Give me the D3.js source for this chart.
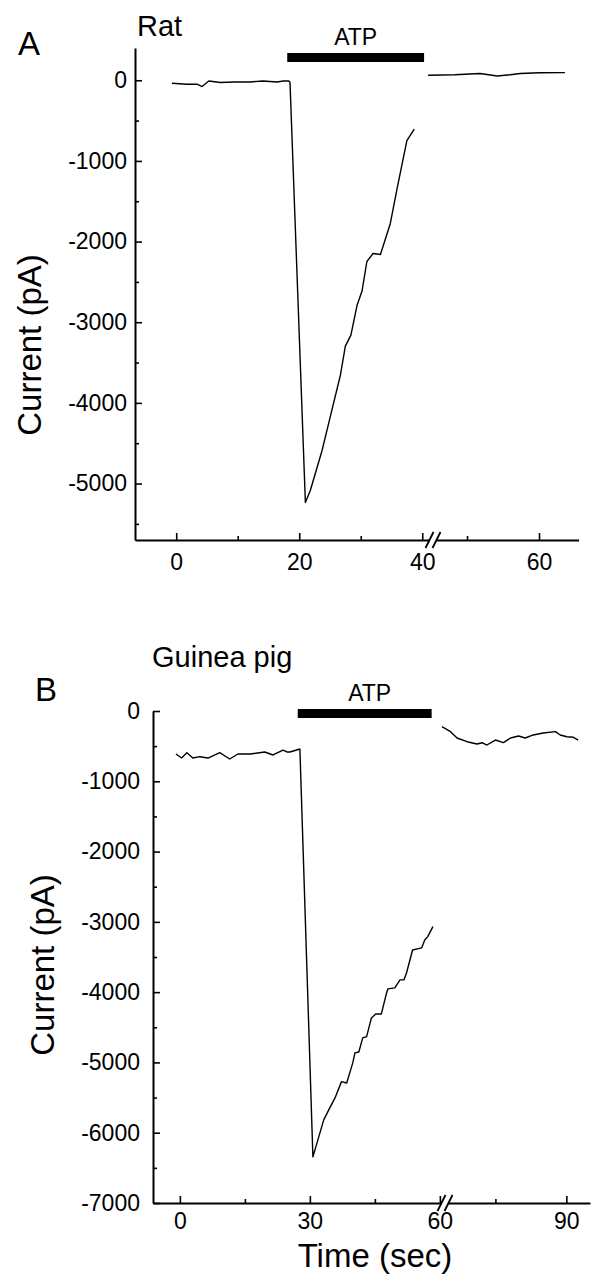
<!DOCTYPE html>
<html><head><meta charset="utf-8">
<script src="https://cdn.jsdelivr.net/npm/d3@7"></script>
<style>
body{margin:0;background:#fff}
svg{display:block;background:#fff}
text{font-family:"Liberation Sans",Arial,Helvetica,sans-serif;fill:#000}
</style>
</head><body>
<svg id="chart" width="592" height="1275"></svg>
<script>
// ---------- Data: Panel A (Rat) ----------
const ratTimePre = [-0.7,1.7,3.4,4.2,5.3,7.2,9.3,12.0,14.1,16.4,17.4,18.3,18.5,21.0,21.8,23.7,25.0,26.7,27.5,28.4,29.4,30.2,31.0,32.0,33.2,34.8,35.9,37.5,38.7];
const ratCurrentPre = [-37,-49,-49,-78,-9,-28,-21,-21,-9,-21,-9,-9,-25,-5235,-5086,-4593,-4185,-3654,-3296,-3160,-2790,-2617,-2247,-2148,-2160,-1778,-1346,-749,-605];
const ratTimePost = [44.6,48.3,51.8,54.2,56.0,57.4,60.1,63.6];
const ratCurrentPost = [62,68,83,53,68,83,93,95];
const ratYTicks = [0,-1000,-2000,-3000,-4000,-5000];
const ratYMinor = [-500,-1500,-2500,-3500,-4500,-5500];
const ratXTicksLeft = [0,20,40];
const ratXMinorLeft = [10,30];
const ratXTicksRight = [60];
const ratXMinorRight = [50];
const ratATP = [18.05, 40.3];

// ---------- Data: Panel B (Guinea pig) ----------
const gpTimePre = [-0.9,0.4,1.6,3.0,4.6,6.5,9.2,11.5,13.4,16.2,19.6,21.5,23.8,24.7,25.4,27.7,30.7,31.85,33.2,34.6,35.8,37.3,38.5,39.9,40.4,41.3,42.2,43.1,44.2,45.2,46.5,47.7,48.0,49.6,50.8,51.7,52.3,53.7,55.8,56.5,57.2,58.4];
const gpCurrentPre = [-612,-669,-593,-669,-650,-669,-593,-683,-612,-612,-583,-626,-555,-583,-583,-541,-6344,-6102,-5818,-5647,-5505,-5273,-5292,-5007,-4865,-4851,-4651,-4633,-4367,-4310,-4310,-4011,-3954,-3940,-3826,-3826,-3727,-3400,-3371,-3257,-3210,-3068];
const gpTimePost = [63.7,65.5,66.9,69.0,71.1,72.2,73.2,75.0,76.7,78.2,79.9,81.3,83.0,85.1,87.7,88.7,90.1,91.5,92.5];
const gpCurrentPost = [-223,-294,-384,-437,-469,-451,-484,-413,-451,-384,-356,-384,-341,-313,-294,-341,-366,-374,-413];
const gpYTicks = [0,-1000,-2000,-3000,-4000,-5000,-6000,-7000];
const gpYMinor = [-500,-1500,-2500,-3500,-4500,-5500,-6500];
const gpXTicksLeft = [0,30,60];
const gpXMinorLeft = [15,45];
const gpXTicksRight = [90];
const gpXMinorRight = [75];
const gpATP = [27.2, 58.1];

const svg = d3.select("#chart");

function drawPanel(p) {
  const g = svg.append("g");
  const y = d3.scaleLinear().domain(p.yDomain).range([p.bottom, p.top]);
  const xL = d3.scaleLinear().domain(p.xLeftDomain).range(p.xLeftRange);
  const xR = d3.scaleLinear().domain(p.xRightDomain).range(p.xRightRange);
  const fmt = d => String(d);

  g.append("g").attr("transform", `translate(${p.left},0)`)
    .call(d3.axisLeft(y).tickValues(p.yTicks).tickFormat(fmt).tickSizeInner(-7).tickSizeOuter(0).tickPadding(p.yPad));
  g.append("g").attr("transform", `translate(${p.left},0)`)
    .call(d3.axisLeft(y).tickValues(p.yMinor).tickFormat("").tickSizeInner(-4).tickSizeOuter(0))
    .select(".domain").remove();

  g.append("g").attr("transform", `translate(0,${p.bottom})`)
    .call(d3.axisBottom(xL).tickValues(p.xTicksLeft).tickFormat(fmt).tickSizeInner(-7).tickSizeOuter(0).tickPadding(p.xPad));
  g.append("g").attr("transform", `translate(0,${p.bottom})`)
    .call(d3.axisBottom(xL).tickValues(p.xMinorLeft).tickFormat("").tickSizeInner(-4).tickSizeOuter(0))
    .select(".domain").remove();
  g.append("g").attr("transform", `translate(0,${p.bottom})`)
    .call(d3.axisBottom(xR).tickValues(p.xTicksRight).tickFormat(fmt).tickSizeInner(-7).tickSizeOuter(0).tickPadding(p.xPad));
  g.append("g").attr("transform", `translate(0,${p.bottom})`)
    .call(d3.axisBottom(xR).tickValues(p.xMinorRight).tickFormat("").tickSizeInner(-4).tickSizeOuter(0))
    .select(".domain").remove();

  g.selectAll(".domain").attr("stroke", "#000").attr("stroke-width", 2);
  g.selectAll(".tick line").attr("stroke", "#000").attr("stroke-width", 1.6);
  g.selectAll(".tick text").attr("font-size", 23).attr("font-family", '"Liberation Sans",Arial,sans-serif').attr("fill", "#000");

  const bx = p.breakX, by = p.bottom;
  g.append("rect").attr("x", bx - 3).attr("y", by - 3).attr("width", 6).attr("height", 6).attr("fill", "#fff");
  [-3.5, 3.5].forEach(o => {
    g.append("line").attr("x1", bx + o - 4).attr("y1", by + 8).attr("x2", bx + o + 4).attr("y2", by - 8)
      .attr("stroke", "#000").attr("stroke-width", 1.8);
  });

  const lineL = d3.line().x(d => xL(d[0])).y(d => y(d[1]));
  const lineR = d3.line().x(d => xR(d[0])).y(d => y(d[1]));
  g.append("path").datum(d3.zip(p.tPre, p.cPre)).attr("d", lineL)
    .attr("fill", "none").attr("stroke", "#000").attr("stroke-width", 1.4).attr("stroke-linejoin", "round");
  g.append("path").datum(d3.zip(p.tPost, p.cPost)).attr("d", lineR)
    .attr("fill", "none").attr("stroke", "#000").attr("stroke-width", 1.4).attr("stroke-linejoin", "round");

  const ax0 = xL(p.atp[0]), ax1 = xL(p.atp[1]);
  g.append("rect").attr("x", ax0).attr("y", p.barY).attr("width", ax1 - ax0).attr("height", 9).attr("fill", "#000");
  g.append("text").attr("x", (ax0 + ax1) / 2 + p.atpDx).attr("y", p.barY - 8)
    .attr("text-anchor", "middle").attr("font-size", 23).text("ATP");

  g.append("text").attr("x", p.letterX).attr("y", p.letterY).attr("font-size", 33).text(p.letter);
  g.append("text").attr("x", p.titleX).attr("y", p.titleY).attr("font-size", 29).text(p.title);
  g.append("text").attr("transform", `translate(${p.ylabX},${p.ylabY}) rotate(-90)`)
    .attr("text-anchor", "middle").attr("dominant-baseline", "central").attr("font-size", 33).text("Current (pA)");
}

drawPanel({
  tPre: ratTimePre, cPre: ratCurrentPre, tPost: ratTimePost, cPost: ratCurrentPost,
  yTicks: ratYTicks, yMinor: ratYMinor,
  xTicksLeft: ratXTicksLeft, xMinorLeft: ratXMinorLeft, xTicksRight: ratXTicksRight, xMinorRight: ratXMinorRight,
  atp: ratATP,
  yDomain: [-5700, 400], top: 48, bottom: 540, left: 135,
  xLeftDomain: [-6.7, 41], xLeftRange: [135, 428.4],
  xRightDomain: [44.5, 65.5], xRightRange: [427.4, 578.6],
  breakX: 433, yPad: 8, xPad: 14,
  barY: 53, atpDx: 0,
  letter: "A", letterX: 18, letterY: 55,
  title: "Rat", titleX: 137, titleY: 36,
  ylabX: 29, ylabY: 345
});

drawPanel({
  tPre: gpTimePre, cPre: gpCurrentPre, tPost: gpTimePost, cPost: gpCurrentPost,
  yTicks: gpYTicks, yMinor: gpYMinor,
  xTicksLeft: gpXTicksLeft, xMinorLeft: gpXMinorLeft, xTicksRight: gpXTicksRight, xMinorRight: gpXMinorRight,
  atp: gpATP,
  yDomain: [-7000, 0], top: 711, bottom: 1203, left: 153,
  xLeftDomain: [-6.2, 61], xLeftRange: [153, 444.2],
  xRightDomain: [63.5, 95], xRightRange: [441, 590],
  breakX: 445, yPad: 13, xPad: 10,
  barY: 709, atpDx: 5,
  letter: "B", letterX: 35, letterY: 701,
  title: "Guinea pig", titleX: 152, titleY: 667,
  ylabX: 42, ylabY: 965
});

svg.append("text").attr("x", 375).attr("y", 1267).attr("text-anchor", "middle").attr("font-size", 33).text("Time (sec)");
</script>
</body></html>
